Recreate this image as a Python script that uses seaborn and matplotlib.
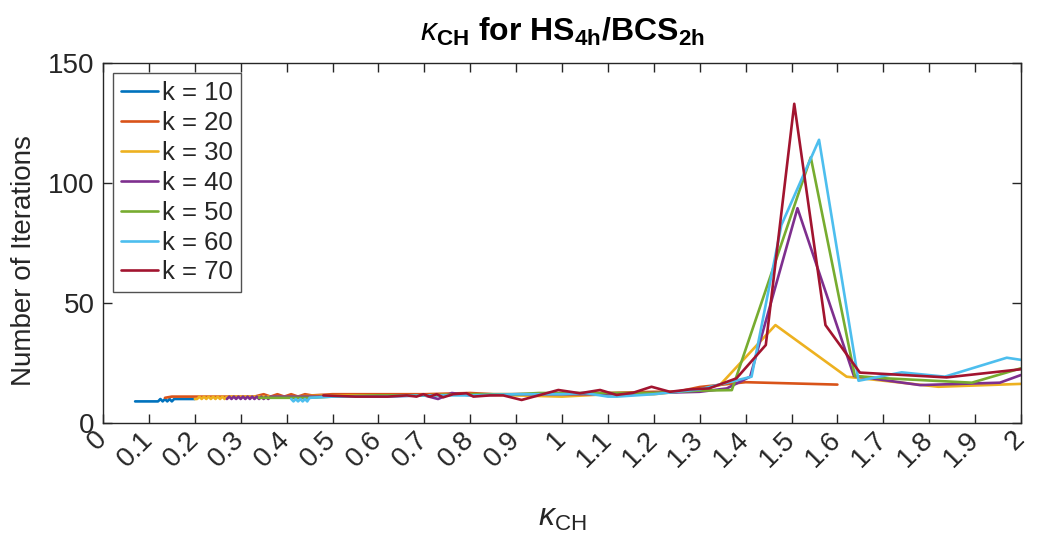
import numpy as np
import pandas as pd
import matplotlib
matplotlib.use("Agg")
import matplotlib.pyplot as plt
import seaborn as sns

# ---------------- data ----------------
k_labels = ["k = 10", "k = 20", "k = 30", "k = 40", "k = 50", "k = 60", "k = 70"]

k10_x = [0.070, 0.080, 0.090, 0.100, 0.110, 0.120, 0.125, 0.130, 0.135, 0.140, 0.145,
         0.150, 0.155, 0.160, 0.170, 0.180, 0.190, 0.200]
k10_y = [9, 9, 9, 9, 9, 9, 10, 9, 10, 9, 10, 9, 10, 10, 10, 10, 10, 10]

k20_x = [0.135, 0.150, 0.200, 0.250, 0.300, 0.330, 0.350, 0.365, 0.380, 0.395, 0.410,
         0.425, 0.440, 0.455, 0.500, 0.600, 0.700, 0.800, 0.850, 0.900, 1.000, 1.100,
         1.200, 1.250, 1.300, 1.400, 1.600]
k20_y = [10.5, 11, 11, 11, 11, 11, 12, 11, 12, 11, 12, 11, 12, 11.5, 12, 12, 12, 12.5,
         12, 12, 12, 12.5, 13, 13, 15, 17, 16]

k30_x = [0.200, 0.205, 0.210, 0.215, 0.220, 0.225, 0.230, 0.235, 0.240, 0.245, 0.250,
         0.255, 0.260, 0.265, 0.270, 0.300, 0.400, 0.500, 0.600, 0.700, 0.800, 0.900,
         1.000, 1.100, 1.200, 1.300, 1.344, 1.465, 1.620, 1.820, 2.000]
k30_y = [10, 10, 11, 10, 11, 10, 11, 10, 11, 10, 11, 10, 11, 10, 11, 11, 11, 11.5, 11.5,
         11.5, 12, 11.5, 11, 12, 12, 14, 15.8, 40.8, 19.3, 15.1, 16.3]

k40_x = [0.270, 0.275, 0.280, 0.285, 0.290, 0.295, 0.300, 0.305, 0.310, 0.315, 0.320,
         0.325, 0.330, 0.335, 0.340, 0.345, 0.350, 0.355, 0.360, 0.365, 0.400, 0.500,
         0.600, 0.700, 0.730, 0.760, 0.800, 0.900, 1.000, 1.100, 1.200, 1.300, 1.359,
         1.410, 1.513, 1.636, 1.780, 1.954, 2.000]
k40_y = [10, 11, 10, 11, 10, 11, 10, 11, 10, 11, 10, 11, 10, 11, 10, 11, 10, 11, 10, 11,
         11, 11, 11, 11.5, 10, 12.5, 11.5, 12, 12, 12, 12.5, 13, 14.4, 19.3, 89.5, 19.6,
         15.8, 16.8, 20]

k50_x = [0.340, 0.400, 0.450, 0.500, 0.600, 0.700, 0.800, 0.900, 0.950, 1.000, 1.100,
         1.200, 1.300, 1.370, 1.542, 1.638, 1.707, 1.893, 2.000]
k50_y = [10.5, 10.5, 10.5, 11, 11.5, 11.5, 12, 12, 12.5, 12.5, 12.5, 12.5, 13.5, 13.7,
         110.7, 19.6, 18.6, 16.8, 22.8]

k60_x = [0.410, 0.415, 0.420, 0.425, 0.430, 0.435, 0.440, 0.445, 0.450, 0.500, 0.600,
         0.700, 0.800, 0.900, 1.000, 1.050, 1.100, 1.120, 1.200, 1.300, 1.413, 1.478,
         1.560, 1.646, 1.740, 1.834, 1.969, 2.000]
k60_y = [10, 9, 10, 9, 10, 9, 10, 9, 10.5, 11, 11, 11.5, 11.5, 12, 12, 12.5, 11, 11, 12,
         14, 19.3, 82.5, 118, 17.6, 21.1, 19.3, 27.2, 26.3]

k70_x = [0.480, 0.550, 0.620, 0.662, 0.683, 0.698, 0.712, 0.727, 0.741, 0.763, 0.792,
         0.807, 0.843, 0.872, 0.912, 0.992, 1.039, 1.083, 1.119, 1.155, 1.195, 1.235,
         1.279, 1.320, 1.380, 1.444, 1.506, 1.574, 1.649, 1.838, 2.000]
k70_y = [11.5, 11, 11, 11.5, 11, 12, 11, 12, 10.7, 12, 12.4, 11, 11.5, 11.5, 9.6, 13.75,
         12.4, 13.75, 11.7, 12.6, 15.1, 13, 14, 14.4, 18.6, 32.5, 133, 40.8, 21, 19, 22.4]

x_ticks = [0, 0.1, 0.2, 0.3, 0.4, 0.5, 0.6, 0.7, 0.8, 0.9, 1, 1.1, 1.2, 1.3, 1.4, 1.5,
           1.6, 1.7, 1.8, 1.9, 2]
x_tick_labels = ["0", "0.1", "0.2", "0.3", "0.4", "0.5", "0.6", "0.7", "0.8", "0.9", "1",
                 "1.1", "1.2", "1.3", "1.4", "1.5", "1.6", "1.7", "1.8", "1.9", "2"]
y_ticks = [0, 50, 100, 150]

colors = ["#0072BD", "#D95319", "#EDB120", "#7E2F8E", "#77AC30", "#4DBEEE", "#A2142F"]

# -------------- build frame --------------
series = [(k10_x, k10_y), (k20_x, k20_y), (k30_x, k30_y), (k40_x, k40_y),
          (k50_x, k50_y), (k60_x, k60_y), (k70_x, k70_y)]
frames = []
for lab, (xs, ys) in zip(k_labels, series):
    frames.append(pd.DataFrame({"kappa": xs, "iters": ys, "k": lab}))
df = pd.concat(frames, ignore_index=True)

# -------------- plot --------------
sns.set_theme(style="white")
plt.rcParams["font.family"] = ["Liberation Sans", "DejaVu Sans"]
plt.rcParams["mathtext.fontset"] = "custom"
plt.rcParams["mathtext.rm"] = "Liberation Sans"
plt.rcParams["mathtext.it"] = "Liberation Sans:italic"
plt.rcParams["mathtext.bf"] = "Liberation Sans:bold"

fig = plt.figure(figsize=(10.43, 5.34), dpi=100)
ax = fig.add_axes([103 / 1043, 1 - 423 / 534, (1021 - 103) / 1043, (423 - 63) / 534])

sns.lineplot(data=df, x="kappa", y="iters", hue="k", hue_order=k_labels,
             palette=colors, estimator=None, sort=False, linewidth=1.9, ax=ax)

ax.set_xlim(0, 2)
ax.set_ylim(0, 150)
ax.set_xticks(x_ticks)
ax.set_xticklabels(x_tick_labels, rotation=45, ha="right", va="center",
                   rotation_mode="anchor", fontsize=20)
ax.set_yticks(y_ticks)
ax.set_yticklabels([str(v) for v in y_ticks], fontsize=20)

edge = "#262626"
for s in ax.spines.values():
    s.set_color(edge)
    s.set_linewidth(1.0)
ax.tick_params(direction="in", length=6.5, width=1.0, color=edge, labelcolor="#262626",
               top=True, right=True, bottom=True, left=True, pad=6)
ax.tick_params(axis="x", pad=9)

ax.set_xlabel(r"$\kappa_{\rm CH}$", fontsize=23, color="#262626", labelpad=22)
ax.set_ylabel("Number of Iterations", fontsize=20, color="#262626")
ax.yaxis.set_label_coords(-0.072, 0.45)
ax.set_title(r"$\kappa_{\mathbf{CH}}$ for HS$_{\mathbf{4h}}$/BCS$_{\mathbf{2h}}$",
             fontsize=23, fontweight="bold", color="#000000", pad=16)

leg = ax.legend(loc="upper left", fontsize=18.5, frameon=True, fancybox=False,
                handlelength=1.45, handletextpad=0.15, labelspacing=0.23,
                borderpad=0.3, borderaxespad=0.4)
leg.get_frame().set_edgecolor(edge)
leg.get_frame().set_linewidth(1.0)
leg.set_title(None)
for line in leg.get_lines():
    line.set_linewidth(1.9)

fig.savefig("out.png", dpi=100)
